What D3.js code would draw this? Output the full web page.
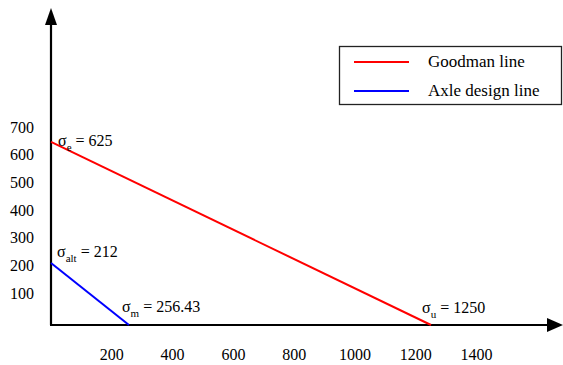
<!DOCTYPE html>
<html>
<head>
<meta charset="utf-8">
<script src="https://cdn.jsdelivr.net/npm/d3@7"></script>
<style>
  html, body { margin: 0; padding: 0; background: #fff; }
  svg { display: block; }
  svg text { font-family: 'Liberation Serif', 'Times New Roman', serif; }
</style>
</head>
<body>
<div id="chart"></div>
<script>
// data
const xTicks = [200, 400, 600, 800, 1000, 1200, 1400];
const yTicks = [100, 200, 300, 400, 500, 600, 700];
const goodmanLine = [[0, 625], [1250, 0]];
const axleLine = [[0, 212], [256.43, 0]];
const seriesNames = ['Goodman line', 'Axle design line'];
const seriesColors = ['#ff0000', '#0000ff'];
const notes = [
  { x: 0, y: 625, sub: 'e', text: ' = 625', dx: 7, dy: 4 },
  { x: 0, y: 212, sub: 'alt', text: ' = 212', dx: 6, dy: -6 },
  { x: 256.43, y: 0, sub: 'm', text: ' = 256.43', dx: -7, dy: -13 },
  { x: 1250, y: 0, sub: 'u', text: ' = 1250', dx: -9, dy: -12 }
];

const width = 563, height = 365;
const origin = { x: 51, y: 325 };

const svg = d3.select('#chart').append('svg')
  .attr('width', width)
  .attr('height', height);

const xScale = d3.scaleLinear().domain([0, 1250]).range([origin.x, 431]);
const yScale = d3.scaleLinear().domain([0, 700]).range([origin.y, 120]);
// the y labels in the original sit on a slightly tighter spacing than the lines
const yLabelScale = d3.scaleLinear().domain([0, 700]).range([321, 127]);

// axes with arrow heads
svg.append('line')
  .attr('x1', origin.x).attr('y1', origin.y)
  .attr('x2', origin.x).attr('y2', 22)
  .attr('stroke', '#000').attr('stroke-width', 2.2);
svg.append('line')
  .attr('x1', origin.x - 1).attr('y1', origin.y)
  .attr('x2', 550).attr('y2', origin.y)
  .attr('stroke', '#000').attr('stroke-width', 2.2);
svg.append('path')
  .attr('d', `M${origin.x},8 L${origin.x - 6},25 L${origin.x + 6},25 Z`)
  .attr('fill', '#000');
svg.append('path')
  .attr('d', `M563,${origin.y} L547,${origin.y - 7} L547,${origin.y + 7} Z`)
  .attr('fill', '#000');

// tick labels
svg.append('g').selectAll('text')
  .data(xTicks)
  .join('text')
  .attr('x', d => xScale(d))
  .attr('y', 360)
  .attr('text-anchor', 'middle')
  .attr('font-size', 16)
  .text(d => d);

svg.append('g').selectAll('text')
  .data(yTicks)
  .join('text')
  .attr('x', 34)
  .attr('y', d => yLabelScale(d))
  .attr('dy', '0.35em')
  .attr('text-anchor', 'end')
  .attr('font-size', 16)
  .text(d => d);

// lines
const line = d3.line().x(d => xScale(d[0])).y(d => yScale(d[1]));
svg.append('path').datum(goodmanLine)
  .attr('d', line).attr('fill', 'none')
  .attr('stroke', seriesColors[0]).attr('stroke-width', 2);
svg.append('path').datum(axleLine)
  .attr('d', line).attr('fill', 'none')
  .attr('stroke', seriesColors[1]).attr('stroke-width', 2);

// annotations
notes.forEach(n => {
  const t = svg.append('text')
    .attr('x', xScale(n.x) + n.dx)
    .attr('y', yScale(n.y) + n.dy)
    .attr('font-size', 16);
  t.append('tspan').text('σ');
  t.append('tspan').attr('font-size', 11).attr('dy', 5).text(n.sub);
  t.append('tspan').attr('dy', -5).text(n.text);
});

// legend
const legend = svg.append('g');
legend.append('rect')
  .attr('x', 339.5).attr('y', 46.5)
  .attr('width', 222).attr('height', 58)
  .attr('fill', '#fff').attr('stroke', '#222').attr('stroke-width', 1.3);
seriesNames.forEach((name, i) => {
  const y = 62 + i * 29;
  legend.append('line')
    .attr('x1', 354).attr('x2', 409)
    .attr('y1', y).attr('y2', y)
    .attr('stroke', seriesColors[i]).attr('stroke-width', 2);
  legend.append('text')
    .attr('x', 428).attr('y', y + 5)
    .attr('font-size', 17)
    .text(name);
});
</script>
</body>
</html>
